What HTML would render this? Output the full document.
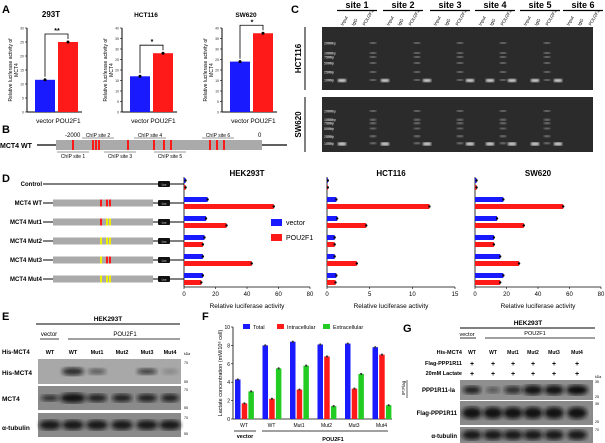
<!DOCTYPE html>
<html><head><meta charset="utf-8"><style>
body{margin:0;background:#fff;}
svg{display:block;font-family:"Liberation Sans",Arial,sans-serif;}
</style></head><body>
<svg id="fig" width="605" height="443" viewBox="0 0 605 443">
<defs>
<filter id="blur1"><feGaussianBlur stdDeviation="1.2"/></filter>
<filter id="blur2"><feGaussianBlur stdDeviation="2"/></filter>
</defs>
<g id="gA"></g>
<g id="gB"></g>
<g id="gC"></g>
<g id="gD"></g>
<g id="gE"></g>
<g id="gF"></g>
<g id="gG"></g>
</svg>
<script>
// ---- Panel A data ----
const aTitles = ["293T","HCT116","SW620"];
const aCats = ["vector","POU2F1"];
const aVector = [11.5, 17, 24];
const aPou = [25, 28, 37.5];
const aMax = [30, 40, 40];
const aTicks = [[0,5,10,15,20,25,30],[0,5,10,15,20,25,30,35,40],[0,5,10,15,20,25,30,35,40]];
const aSig = ["**","*","*"];
// ---- Panel D data ----
const dRows = ["Control","MCT4 WT","MCT4 Mut1","MCT4 Mut2","MCT4 Mut3","MCT4 Mut4"];
const dTitles = ["HEK293T","HCT116","SW620"];
const dMax = [80, 15, 80];
const dTicks = [[0,20,40,60,80],[0,5,10,15],[0,20,40,60,80]];
const dVecHEK = [1, 15, 14, 13, 12, 12];
const dPouHEK = [1, 57, 27, 12, 43, 11];
const dVecHCT = [0.1, 1.1, 1.2, 0.9, 0.9, 1.1];
const dPouHCT = [0.1, 12, 4.6, 0.9, 3.5, 1.0];
const dVecSW = [1, 18, 14, 12, 16, 18];
const dPouSW = [1, 56, 31, 12, 28, 16];
// ---- Panel F data ----
const fGroups = ["WT","WT","Mut1","Mut2","Mut3","Mut4"];
const fTotal = [4.3, 8.0, 8.4, 8.1, 8.2, 7.8];
const fIntra = [1.7, 2.2, 3.2, 6.8, 3.3, 7.0];
const fExtra = [3.0, 5.5, 5.8, 1.4, 4.9, 1.5];
const fTicks = [0,2,4,6,8,10];

const NS="http://www.w3.org/2000/svg";
function mk(parent, tag, attrs, text){
  const e=document.createElementNS(NS,tag);
  for(const k in attrs) e.setAttribute(k,attrs[k]);
  if(text!==undefined) e.textContent=text;
  parent.appendChild(e); return e;
}
const BLUE="#1a1aff", RED="#ff1a1a", GREEN="#22cc22";

// ===== Panel A =====
(function(){
  const g=document.getElementById('gA');
  let t=mk(g,'text',{x:2,y:13,'font-size':11,'font-weight':'bold'},'A');
   
  const axX=[27,122,222], y0=112, y1=28;
  for(let i=0;i<3;i++){
    const x0=axX[i];
    const sy=v=>y0-(v/aMax[i])*(y0-y1);
    let tt=mk(g,'text',{x:x0+24,y:17,'font-size':i==0?8:6.5,'font-weight':'bold','text-anchor':'middle'},aTitles[i]);
     
    let ax=mk(g,'line',{x1:x0,y1:y1,x2:x0,y2:y0,stroke:'#000','stroke-width':1});
     
    mk(g,'line',{x1:x0,y1:y0,x2:x0+55,y2:y0,stroke:'#000','stroke-width':1});
    aTicks[i].forEach(v=>{
      mk(g,'line',{x1:x0-2,y1:sy(v),x2:x0,y2:sy(v),stroke:'#000','stroke-width':0.6});
      let tl=mk(g,'text',{x:x0-3,y:sy(v)+1.5,'font-size':3.5,'text-anchor':'end',fill:'#333'},String(v));
       
    });
    let yl=mk(g,'text',{x:0,y:0,'font-size':5,'text-anchor':'middle',transform:`translate(${x0-15},${(y0+y1)/2}) rotate(-90)`},'Relative luciferase activity of');
     
    mk(g,'text',{x:0,y:0,'font-size':5,'text-anchor':'middle',transform:`translate(${x0-9},${(y0+y1)/2}) rotate(-90)`},'MCT4');
    const vals=[aVector[i],aPou[i]], cols=[BLUE,RED];
    for(let j=0;j<2;j++){
      const bx=x0+8+j*23;
      let b=mk(g,'rect',{x:bx,y:sy(vals[j]),width:20,height:y0-sy(vals[j]),fill:cols[j]});
       
      mk(g,'circle',{cx:bx+10,cy:sy(vals[j]),r:1.5,fill:'#000'});
      let cl=mk(g,'text',{x:bx+10,y:123,'font-size':6.5,'text-anchor':'middle'},aCats[j]);
       
    }
    const top=Math.min(sy(aVector[i]),sy(aPou[i]))-8;
    mk(g,'path',{d:`M${x0+18},${sy(aVector[i])-3}V${top}H${x0+41}V${sy(aPou[i])-3}`,fill:'none',stroke:'#000','stroke-width':0.8});
    let s=mk(g,'text',{x:x0+30,y:top-1,'font-size':7,'text-anchor':'middle','font-weight':'bold'},aSig[i]);
     
  }
})();

// ===== Panel B =====
(function(){
  const g=document.getElementById('gB');
  let t=mk(g,'text',{x:2,y:133,'font-size':11,'font-weight':'bold'},'B');
   
  let l=mk(g,'text',{x:0,y:148,'font-size':7,'font-weight':'bold'},'MCT4 WT');
   
  mk(g,'line',{x1:37,y1:145,x2:287,y2:145,stroke:'#000','stroke-width':1.3});
  let box=mk(g,'rect',{x:56,y:140,width:206,height:10,fill:'#aaa'});
   
  [73,93,96,99,128,154,164,171,210,217,224].forEach(x=>mk(g,'rect',{x:x-1,y:140,width:2,height:10,fill:RED}));
  mk(g,'text',{x:65,y:137,'font-size':6},'-2000');
  mk(g,'text',{x:258,y:137,'font-size':6},'0');
  [['ChIP site 2',98,137],['ChIP site 4',150,137],['ChIP site 6',218,137]].forEach(a=>{
    mk(g,'text',{x:a[1],y:a[2],'font-size':5,'text-anchor':'middle'},a[0]);
    mk(g,'line',{x1:a[1]-16,y1:a[2]+1,x2:a[1]+16,y2:a[2]+1,stroke:'#000','stroke-width':0.4});});
  [['ChIP site 1',73,158],['ChIP site 3',120,158],['ChIP site 5',170,158]].forEach(a=>{
    mk(g,'text',{x:a[1],y:a[2],'font-size':5,'text-anchor':'middle'},a[0]);
    mk(g,'line',{x1:a[1]-16,y1:a[2]-6,x2:a[1]+16,y2:a[2]-6,stroke:'#000','stroke-width':0.4});});
})();

// ===== Panel C =====
(function(){
  const g=document.getElementById('gC');
  let t=mk(g,'text',{x:291,y:13,'font-size':11,'font-weight':'bold'},'C');
   
  const sites=[357,403,450,495,540,583];
  sites.forEach((x,i)=>{
    let s=mk(g,'text',{x:x,y:8,'font-size':9,'font-weight':'bold','text-anchor':'middle'},'site '+(i+1));
     
    mk(g,'line',{x1:x-20,y1:10.5,x2:x+20,y2:10.5,stroke:'#000','stroke-width':1.2});
    ['Input','IgG','POU2F1'].forEach((n,k)=>{
      mk(g,'text',{x:0,y:0,'font-size':4.5,transform:`translate(${x-14+k*11},${26}) rotate(-60)`},n);
    });
  });
  const gels=[[27,90,'HCT116'],[97,152,'SW620']];
  const ladX=[330,373,417,460,503,547];
  const sampX=[342,385,427,470,490,512,535,558];
  const ladOff=[16,26,30,36,45,53], ladL=['2000bp','1000bp','750bp','500bp','250bp','100bp'];
  gels.forEach((gg,gi)=>{
    let r=mk(g,'rect',{x:322,y:gg[0],width:271,height:gg[1]-gg[0],fill:'#2b2b2b'});
     
    mk(g,'line',{x1:305,y1:gg[0],x2:305,y2:gg[1],stroke:'#000','stroke-width':1});
    let rl=mk(g,'text',{x:0,y:0,'font-size':8,'font-weight':'bold','text-anchor':'middle',transform:`translate(301,${(gg[0]+gg[1])/2}) rotate(-90)`},gg[2]);
     
    const sc=(gg[1]-gg[0])/63;
    ladL.forEach((lab,k)=>{
      const y=gg[0]+ladOff[k]*sc;
      mk(g,'text',{x:324,y:y+1.5,'font-size':3.6,fill:'#ddd'},lab);
      ladX.forEach(x=>mk(g,'rect',{x:x-3,y:y-0.7,width:6,height:1.4,fill:'#bbb',filter:'url(#blur1)'}));
    });
    sampX.forEach(x=>mk(g,'rect',{x:x-4,y:gg[0]+52*sc,width:8,height:3,fill:'#eee',filter:'url(#blur1)'}));
  });
})();

// ===== Panel D =====
(function(){
  const g=document.getElementById('gD');
  let t=mk(g,'text',{x:2,y:182,'font-size':11,'font-weight':'bold'},'D');
   
  const rowY=[184,203,222,241,260,279];
  dRows.forEach((n,i)=>{
    const y=rowY[i];
    let l=mk(g,'text',{x:42,y:y+2,'font-size':6,'font-weight':'bold','text-anchor':'end'},n);
     
    mk(g,'line',{x1:43,y1:y,x2:184,y2:y,stroke:'#000','stroke-width':1});
    if(i>0){
      let b=mk(g,'rect',{x:53,y:y-3.5,width:100,height:7,fill:'#aaa'});
       
      const c=[[RED,RED],[RED,'#ee0'],['#ee0','#ee0'],['#ee0',RED],['#ee0','#ee0']][i-1];
      mk(g,'rect',{x:100,y:y-3.5,width:2,height:7,fill:c[0]});
      mk(g,'rect',{x:106,y:y-3.5,width:2,height:7,fill:c[1]});
      mk(g,'rect',{x:109,y:y-3.5,width:2,height:7,fill:c[1]});
    }
    let lu=mk(g,'rect',{x:158,y:y-3,width:12,height:6,rx:1,fill:'#111'});
     
    mk(g,'text',{x:164,y:y+1.5,'font-size':3,fill:'#fff','text-anchor':'middle'},'Luc');
  });
  const axes=[[184,310],[327,455],[475,601]];
  const vecs=[dVecHEK,dVecHCT,dVecSW], pous=[dPouHEK,dPouHCT,dPouSW];
  const yAx=287;
  for(let c=0;c<3;c++){
    const [x0,x1]=axes[c];
    const sx=v=>x0+(v/dMax[c])*(x1-x0);
    let tt=mk(g,'text',{x:(x0+x1)/2,y:176,'font-size':8,'font-weight':'bold','text-anchor':'middle'},dTitles[c]);
     
    mk(g,'line',{x1:x0,y1:177,x2:x0,y2:yAx,stroke:'#000','stroke-width':0.8});
    mk(g,'line',{x1:x0,y1:yAx,x2:x1,y2:yAx,stroke:'#000','stroke-width':0.8});
    dTicks[c].forEach(v=>{
      mk(g,'line',{x1:sx(v),y1:yAx,x2:sx(v),y2:yAx+2,stroke:'#000','stroke-width':0.6});
      let tl=mk(g,'text',{x:sx(v),y:yAx+9,'font-size':6,'text-anchor':'middle'},String(v));
       
    });
    let xl=mk(g,'text',{x:(x0+x1)/2,y:yAx+21,'font-size':6.5,'text-anchor':'middle'},'Relative luciferase activity');
     
    rowY.forEach((y,i)=>{
      let b1=mk(g,'rect',{x:x0,y:y-6,width:sx(vecs[c][i])-x0,height:5,fill:BLUE});
       
      let b2=mk(g,'rect',{x:x0,y:y+1,width:sx(pous[c][i])-x0,height:5,fill:RED});
       
      mk(g,'circle',{cx:sx(vecs[c][i]),cy:y-3.5,r:1.2,fill:'#000'});
      mk(g,'circle',{cx:sx(pous[c][i]),cy:y+3.5,r:1.2,fill:'#000'});
    });
  }
  let lv=mk(g,'rect',{x:271,y:219,width:11,height:7,fill:BLUE});
   
  mk(g,'text',{x:286,y:225,'font-size':7},'vector');
  let lp=mk(g,'rect',{x:271,y:234,width:11,height:7,fill:RED});
   
  mk(g,'text',{x:286,y:240,'font-size':7},'POU2F1');
})();

// blot helper
function blot(g,x,y,w,h,bg,bands,name){
  let r=mk(g,'rect',{x:x,y:y,width:w,height:h,fill:bg});
   
  bands.forEach(b=>mk(g,'ellipse',{cx:b[0],cy:y+h/2,rx:b[1],ry:b[2],fill:'#111',opacity:b[3],filter:'url(#blur2)'}));
}

// ===== Panel E =====
(function(){
  const g=document.getElementById('gE');
  let t=mk(g,'text',{x:2,y:320,'font-size':11,'font-weight':'bold'},'E');
   
  mk(g,'text',{x:108,y:321,'font-size':6.5,'text-anchor':'middle','font-weight':'bold'},'HEK293T');
  mk(g,'line',{x1:36,y1:324,x2:180,y2:324,stroke:'#000','stroke-width':1});
  mk(g,'text',{x:49,y:336,'font-size':6,'text-anchor':'middle'},'vector');
  mk(g,'line',{x1:40,y1:339,x2:59,y2:339,stroke:'#000','stroke-width':0.8});
  mk(g,'text',{x:125,y:336,'font-size':6,'text-anchor':'middle'},'POU2F1');
  mk(g,'line',{x1:68,y1:339,x2:180,y2:339,stroke:'#000','stroke-width':0.8});
  mk(g,'text',{x:2,y:354,'font-size':6,'font-weight':'bold'},'His-MCT4');
  const lanes=[50,73,97,122,147,170], ln=['WT','WT','Mut1','Mut2','Mut3','Mut4'];
  lanes.forEach((x,i)=>mk(g,'text',{x:x,y:354,'font-size':5.5,'text-anchor':'middle','font-weight':'bold'},ln[i]));
  blot(g,38,359,143,25,'#a8a8a8',[[73,11,4,0.8],[97,9,3,0.5],[147,10,3,0.7],[170,8,3,0.2]],'blot-his-mct4');
  blot(g,38,386,143,24,'#8a8a8a',[[50,9,3,0.8],[73,13,5,0.95],[97,10,4,0.85],[122,10,4,0.85],[147,10,4,0.85],[170,9,4,0.85]],'blot-mct4');
  blot(g,38,413,143,24,'#8a8a8a',lanes.map(x=>[x,11,5,0.9]),'blot-tubulin');
  mk(g,'text',{x:2,y:375,'font-size':6.5,'font-weight':'bold'},'His-MCT4');
  mk(g,'text',{x:2,y:401,'font-size':6.5,'font-weight':'bold'},'MCT4');
  mk(g,'text',{x:2,y:430,'font-size':6.5,'font-weight':'bold'},'α-tubulin');
  [['kDa',353],['70',362],['55',381],['70',389],['55',407],['70',417],['55',433]].forEach(a=>mk(g,'text',{x:184,y:a[1]+2,'font-size':3.5},a[0]));
})();

// ===== Panel F =====
(function(){
  const g=document.getElementById('gF');
  let t=mk(g,'text',{x:202,y:320,'font-size':11,'font-weight':'bold'},'F');
   
  const x0=233,x1=392,y0=419,y1=327;
  const sy=v=>y0-(v/10)*(y0-y1);
  mk(g,'line',{x1:x0,y1:y1,x2:x0,y2:y0,stroke:'#000','stroke-width':0.8});
  mk(g,'line',{x1:x0,y1:y0,x2:x1,y2:y0,stroke:'#000','stroke-width':0.8});
  fTicks.forEach(v=>{
    mk(g,'line',{x1:x0-2,y1:sy(v),x2:x0,y2:sy(v),stroke:'#000','stroke-width':0.6});
    let tl=mk(g,'text',{x:x0-3,y:sy(v)+2,'font-size':5,'text-anchor':'end'},String(v));
     
  });
  let yl=mk(g,'text',{x:0,y:0,'font-size':5.5,'text-anchor':'middle',transform:`translate(${x0-11},${(y0+y1)/2}) rotate(-90)`},'Lactate concentration (mM/10⁶ cell)');
   
  const series=[fTotal,fIntra,fExtra], cols=[BLUE,RED,GREEN], names=['total','intracellular','extracellular'];
  fGroups.forEach((gname,i)=>{
    const cx=244+i*27.5;
    series.forEach((s,k)=>{
      const bx=cx-9+k*6.7;
      let b=mk(g,'rect',{x:bx,y:sy(s[i]),width:5.5,height:y0-sy(s[i]),fill:cols[k]});
       
      mk(g,'circle',{cx:bx+2.75,cy:sy(s[i]),r:1.1,fill:'#333'});
    });
    let tl=mk(g,'text',{x:cx,y:427,'font-size':5,'text-anchor':'middle'},gname);
     
  });
  mk(g,'line',{x1:234,y1:431,x2:256,y2:431,stroke:'#000','stroke-width':0.8});
  mk(g,'text',{x:245,y:438,'font-size':5.5,'text-anchor':'middle','font-weight':'bold'},'vector');
  mk(g,'line',{x1:262,y1:431,x2:388,y2:431,stroke:'#000','stroke-width':0.8});
  mk(g,'text',{x:333,y:441,'font-size':5.5,'text-anchor':'middle','font-weight':'bold'},'POU2F1');
  [[243,'Total'],[277,'Intracellular'],[323,'Extracellular']].forEach((a,k)=>{
    let s=mk(g,'rect',{x:a[0],y:324,width:7,height:5,fill:cols[k]});
     
    mk(g,'text',{x:a[0]+10,y:329,'font-size':5.5},a[1]);
  });
})();

// ===== Panel G =====
(function(){
  const g=document.getElementById('gG');
  let t=mk(g,'text',{x:403,y:332,'font-size':11,'font-weight':'bold'},'G');
   
  mk(g,'text',{x:528,y:325,'font-size':6.5,'text-anchor':'middle','font-weight':'bold'},'HEK293T');
  mk(g,'line',{x1:460,y1:328,x2:595,y2:328,stroke:'#000','stroke-width':1});
  mk(g,'text',{x:467,y:336,'font-size':5.5,'text-anchor':'middle'},'vector');
  mk(g,'line',{x1:460,y1:338,x2:476,y2:338,stroke:'#000','stroke-width':0.8});
  mk(g,'text',{x:535,y:335,'font-size':5.5,'text-anchor':'middle'},'POU2F1');
  mk(g,'line',{x1:485,y1:338,x2:595,y2:338,stroke:'#000','stroke-width':0.8});
  const lanes=[472,493,513,533,554,577], ln=['WT','WT','Mut1','Mut2','Mut3','Mut4'];
  mk(g,'text',{x:462,y:354,'font-size':5.5,'text-anchor':'end','font-weight':'bold'},'His-MCT4');
  mk(g,'text',{x:462,y:365,'font-size':5.5,'text-anchor':'end','font-weight':'bold'},'Flag-PPP1R11');
  mk(g,'text',{x:462,y:375,'font-size':5.5,'text-anchor':'end','font-weight':'bold'},'20mM Lactate');
  lanes.forEach((x,i)=>{
    mk(g,'text',{x:x,y:354,'font-size':5,'text-anchor':'middle','font-weight':'bold'},ln[i]);
    mk(g,'text',{x:x,y:366,'font-size':7,'text-anchor':'middle','font-weight':'bold'},'+');
    mk(g,'text',{x:x,y:376,'font-size':7,'text-anchor':'middle','font-weight':'bold'},'+');
  });
  blot(g,460,380,133,20,'#8f8f8f',[[472,9,4,0.85],[493,7,3,0.45],[513,9,4,0.75],[533,10,5,0.95],[554,10,5,0.95],[577,11,5,1]],'blot-ppp1r11-la');
  blot(g,460,401,133,24,'#8a8a8a',lanes.map(x=>[x,10,6,0.95]),'blot-flag-ppp1r11');
  blot(g,460,427,133,16,'#8a8a8a',lanes.map(x=>[x,10,5,0.9]),'blot-tubulin-g');
  mk(g,'text',{x:455,y:392,'font-size':6,'text-anchor':'end','font-weight':'bold'},'PPP1R11-la');
  mk(g,'text',{x:0,y:0,'font-size':4.5,'text-anchor':'middle',transform:'translate(405,388) rotate(-90)'},'IP:Flag');
  mk(g,'line',{x1:407,y1:380,x2:407,y2:398,stroke:'#000','stroke-width':0.6});
  mk(g,'text',{x:457,y:415,'font-size':6,'text-anchor':'end','font-weight':'bold'},'Flag-PPP1R11');
  mk(g,'text',{x:457,y:438,'font-size':6,'text-anchor':'end','font-weight':'bold'},'α-tubulin');
  [['kDa',376],['35',381],['25',396],['35',403],['25',421],['70',429]].forEach(a=>mk(g,'text',{x:595,y:a[1]+2,'font-size':3.5},a[0]));
})();
</script>
</body></html>
